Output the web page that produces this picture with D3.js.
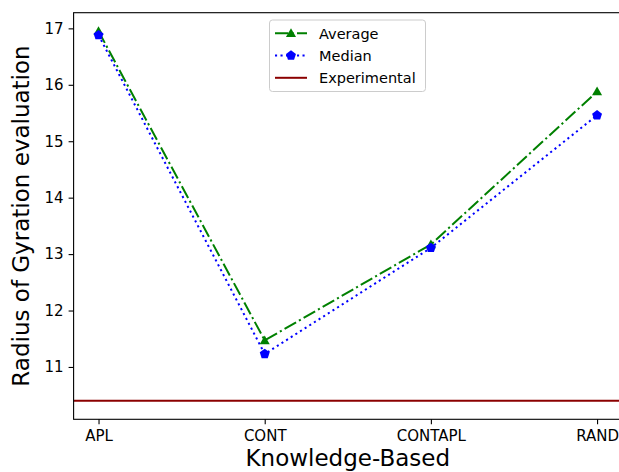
<!DOCTYPE html>
<html><head><meta charset="utf-8">
<script src="https://cdn.jsdelivr.net/npm/d3@7"></script>
<style>body{margin:0;background:#fff}svg{display:block}text{font-family:"DejaVu Sans",sans-serif}</style>
</head><body><svg id="c" width="619" height="472"></svg>
<script>
const categories = ["APL","CONT","CONTAPL","RAND"];
const averageValues = [16.95, 11.47, 13.17, 15.88];
const medianValues = [16.88, 11.23, 13.11, 15.46];
const experimentalValue = 10.4;
const yTicks = [11,12,13,14,15,16,17];
const seriesNames = ["Average","Median","Experimental"];

const svg = d3.select("#c");
const L = 73.6, R = 622, T = 12.7, B = 419.3;
const x = d3.scaleLinear().domain([-0.15, categories.length - 1 + 0.15]).range([L, R]);
const allVals = averageValues.concat(medianValues, [experimentalValue]);
const lo = d3.min(allVals), hi = d3.max(allVals), m = (hi - lo) * 0.05;
const y = d3.scaleLinear().domain([lo - m, hi + m]).range([B, T]);

// experimental line
svg.append("line").attr("x1", L).attr("x2", R).attr("y1", y(experimentalValue)).attr("y2", y(experimentalValue))
  .attr("stroke", "#8b0000").attr("stroke-width", 2);

const line = d3.line().x((d,i)=>x(i)).y(d=>y(d));
svg.append("path").datum(averageValues).attr("d", line).attr("fill","none").attr("stroke","#008000")
  .attr("stroke-width",2).attr("stroke-dasharray","13.3,3.3,2.1,3.3");
svg.append("path").datum(medianValues).attr("d", line).attr("fill","none").attr("stroke","#0000ff")
  .attr("stroke-width",2).attr("stroke-dasharray","2.1,3.4");

const tri = d3.symbol().type(d3.symbolTriangle).size(44)();
function pent(r){const p=[];for(let k=0;k<5;k++){const a=-Math.PI/2+k*2*Math.PI/5;p.push([r*Math.cos(a),r*Math.sin(a)]);}return "M"+p.map(q=>q.join(",")).join("L")+"Z";}
svg.selectAll(".avgm").data(averageValues).enter().append("path")
  .attr("d", tri).attr("transform",(d,i)=>`translate(${x(i)},${y(d)+0.8})`).attr("fill","#008000");
svg.selectAll(".medm").data(medianValues).enter().append("path")
  .attr("d", pent(5.2)).attr("transform",(d,i)=>`translate(${x(i)},${y(d)})`).attr("fill","#0000ff");

// frame
svg.append("rect").attr("x",L).attr("y",T).attr("width",R-L).attr("height",B-T).attr("fill","none")
  .attr("stroke","#000").attr("stroke-width",1.1);

// axes
const xa = svg.append("g").attr("transform",`translate(0,${B})`)
  .call(d3.axisBottom(x).tickValues(d3.range(categories.length)).tickFormat(i=>categories[i]).tickSize(5).tickPadding(6));
const ya = svg.append("g").attr("transform",`translate(${L},0)`)
  .call(d3.axisLeft(y).tickValues(yTicks).tickSize(5).tickPadding(5));
[xa,ya].forEach(g=>{g.select(".domain").remove();g.selectAll("line").attr("stroke","#000").attr("stroke-width",1.1);
  g.selectAll("text").attr("fill","#000").style("font-size","15px").style("font-family","DejaVu Sans");});

svg.append("text").attr("x",(L+R)/2).attr("y",466).attr("text-anchor","middle").style("font-size","23px").text("Knowledge-Based");
svg.append("text").attr("transform",`translate(29,${(T+B)/2}) rotate(-90)`).attr("text-anchor","middle").style("font-size","23px").text("Radius of Gyration evaluation");

// legend
const lg = svg.append("g");
lg.append("rect").attr("x",269.5).attr("y",20).attr("width",156).attr("height",71.5).attr("rx",3)
  .attr("fill","#fff").attr("fill-opacity",0.8).attr("stroke","#ccc");
const rowY = [33.3, 55.5, 77.8];
const styles = [{c:"#008000",dash:"13.3,3.3,2.1,3.3",mk:"tri"},{c:"#0000ff",dash:"2.1,3.4",mk:"pent"},{c:"#8b0000",dash:null,mk:null}];
seriesNames.forEach((n,i)=>{
  const s = styles[i];
  const l = lg.append("line").attr("x1",275).attr("x2",307).attr("y1",rowY[i]).attr("y2",rowY[i]).attr("stroke",s.c).attr("stroke-width",2);
  if(s.dash) l.attr("stroke-dasharray",s.dash);
  if(s.mk==="tri") lg.append("path").attr("d",tri).attr("transform",`translate(291,${rowY[i]+0.8})`).attr("fill",s.c);
  if(s.mk==="pent") lg.append("path").attr("d",pent(5.2)).attr("transform",`translate(291,${rowY[i]})`).attr("fill",s.c);
  lg.append("text").attr("x",319).attr("y",rowY[i]+5.5).style("font-size","14.5px").attr("fill","#000").text(n);
});
</script></body></html>
